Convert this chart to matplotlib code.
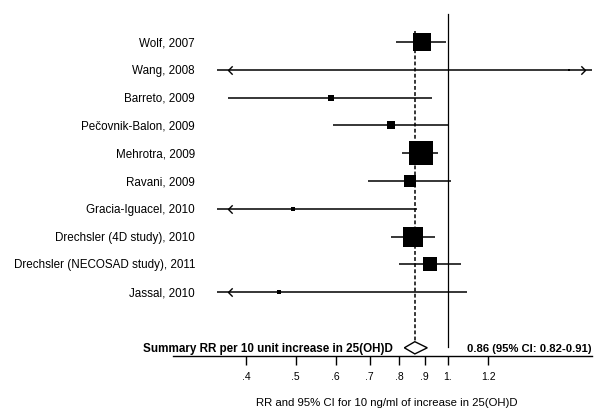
import matplotlib.pyplot as plt
import matplotlib.transforms as mtransforms
from matplotlib.path import Path
from matplotlib.patches import Polygon
import numpy as np

plt.rcParams['font.family'] = ['Liberation Sans', 'DejaVu Sans']

studies = ['Wolf, 2007', 'Wang, 2008', 'Barreto, 2009', 'Pečovnik-Balon, 2009',
           'Mehrotra, 2009', 'Ravani, 2009', 'Gracia-Iguacel, 2010',
           'Drechsler (4D study), 2010', 'Drechsler (NECOSAD study), 2011',
           'Jassal, 2010']
rr = [0.887, 1.73, 0.587, 0.772, 0.886, 0.841, 0.495, 0.854, 0.921, 0.464]
ci_low = [0.79, 0.20, 0.368, 0.592, 0.812, 0.694, 0.20, 0.771, 0.80, 0.20]
ci_high = [0.99, 3.00, 0.93, 1.00, 0.957, 1.012, 0.867, 0.943, 1.061, 1.09]
weights = [17.5, 0.4, 1.9, 4.4, 31.2, 7.8, 1.0, 23.9, 12.2, 1.0]

summary_rr = 0.86
summary_low = 0.82
summary_high = 0.91
summary_label = 'Summary RR per 10 unit increase in 25(OH)D'
summary_text = '0.86 (95% CI: 0.82-0.91)'

tick_vals = [0.4, 0.5, 0.6, 0.7, 0.8, 0.9, 1.0, 1.2]
tick_labels = ['.4', '.5', '.6', '.7', '.8', '.9', '1.', '1.2']
xlabel = 'RR and 95% CI for 10 ng/ml of increase in 25(OH)D'

# plotted range (CIs beyond this get arrows)
clip_lo, clip_hi = 0.35, 1.92

fig = plt.figure(figsize=(5.95, 4.10), dpi=100)
ax = fig.add_axes([173 / 595, 1 - 357 / 410, (592 - 173) / 595, 357 / 410])
ax.set_xscale('log')
ax.set_xlim(0.2865, 1.924)
ax.set_ylim(11.295, -1.547)

for s in ['top', 'right', 'left']:
    ax.spines[s].set_visible(False)
ax.spines['bottom'].set_linewidth(1.0)
ax.set_yticks([])
ax.xaxis.set_minor_locator(plt.NullLocator())
ax.set_xticks(tick_vals)
ax.set_xticklabels(tick_labels, fontsize=7.5)
ax.tick_params(axis='x', direction='out', length=6.5, width=1.0, pad=4)

left_chev = Path([(1, 1), (0, 0), (1, -1)], [Path.MOVETO, Path.LINETO, Path.LINETO])
right_chev = Path([(-1, 1), (0, 0), (-1, -1)], [Path.MOVETO, Path.LINETO, Path.LINETO])

n = len(studies)
ypos = np.arange(n)

# reference line at 1 and dashed summary line
ax.plot([1, 1], [-1.0, 10.97], color='black', lw=0.9)
ax.plot([summary_rr, summary_rr], [-0.4, 10.78], color='black', lw=1.1,
        linestyle=(0, (2.5, 1.5)))

for i in range(n):
    lo = max(ci_low[i], clip_lo)
    hi = min(ci_high[i], clip_hi)
    ax.plot([lo, hi], [ypos[i], ypos[i]], color='black', lw=1.1, solid_capstyle='butt')
    if ci_low[i] < clip_lo:
        ax.plot([0.368], [ypos[i]], marker=left_chev, markersize=6,
                color='black', mew=1.0, fillstyle='none')
    if ci_high[i] > clip_hi:
        ax.plot([1.86], [ypos[i]], marker=right_chev, markersize=6,
                color='black', mew=1.0, fillstyle='none')
    ms = 3.05 * np.sqrt(weights[i])
    ax.plot([rr[i]], [ypos[i]], marker='s', markersize=ms, color='black', mew=0)

# summary diamond
ysum = n + 1
d = Polygon([(summary_low, ysum), (summary_rr, ysum - 0.22),
             (summary_high, ysum), (summary_rr, ysum + 0.22)],
            closed=True, facecolor='white', edgecolor='black', lw=1.0)
ax.add_patch(d)

tr = mtransforms.blended_transform_factory(fig.transFigure, ax.transData)
for i in range(n):
    ax.text(195 / 595, ypos[i], studies[i], transform=tr, ha='right',
            va='center', fontsize=8.4, clip_on=False)
ax.text(393 / 595, ysum, summary_label, transform=tr, ha='right', va='center',
        fontsize=8.4, fontweight='bold', clip_on=False)
ax.text(467 / 595, ysum, summary_text, transform=tr, ha='left', va='center',
        fontsize=8.15, fontweight='bold', clip_on=False)

fig.text(387 / 595, 1 - 403 / 410, xlabel, ha='center', va='center', fontsize=8.2)

fig.savefig('out.png', dpi=100)
